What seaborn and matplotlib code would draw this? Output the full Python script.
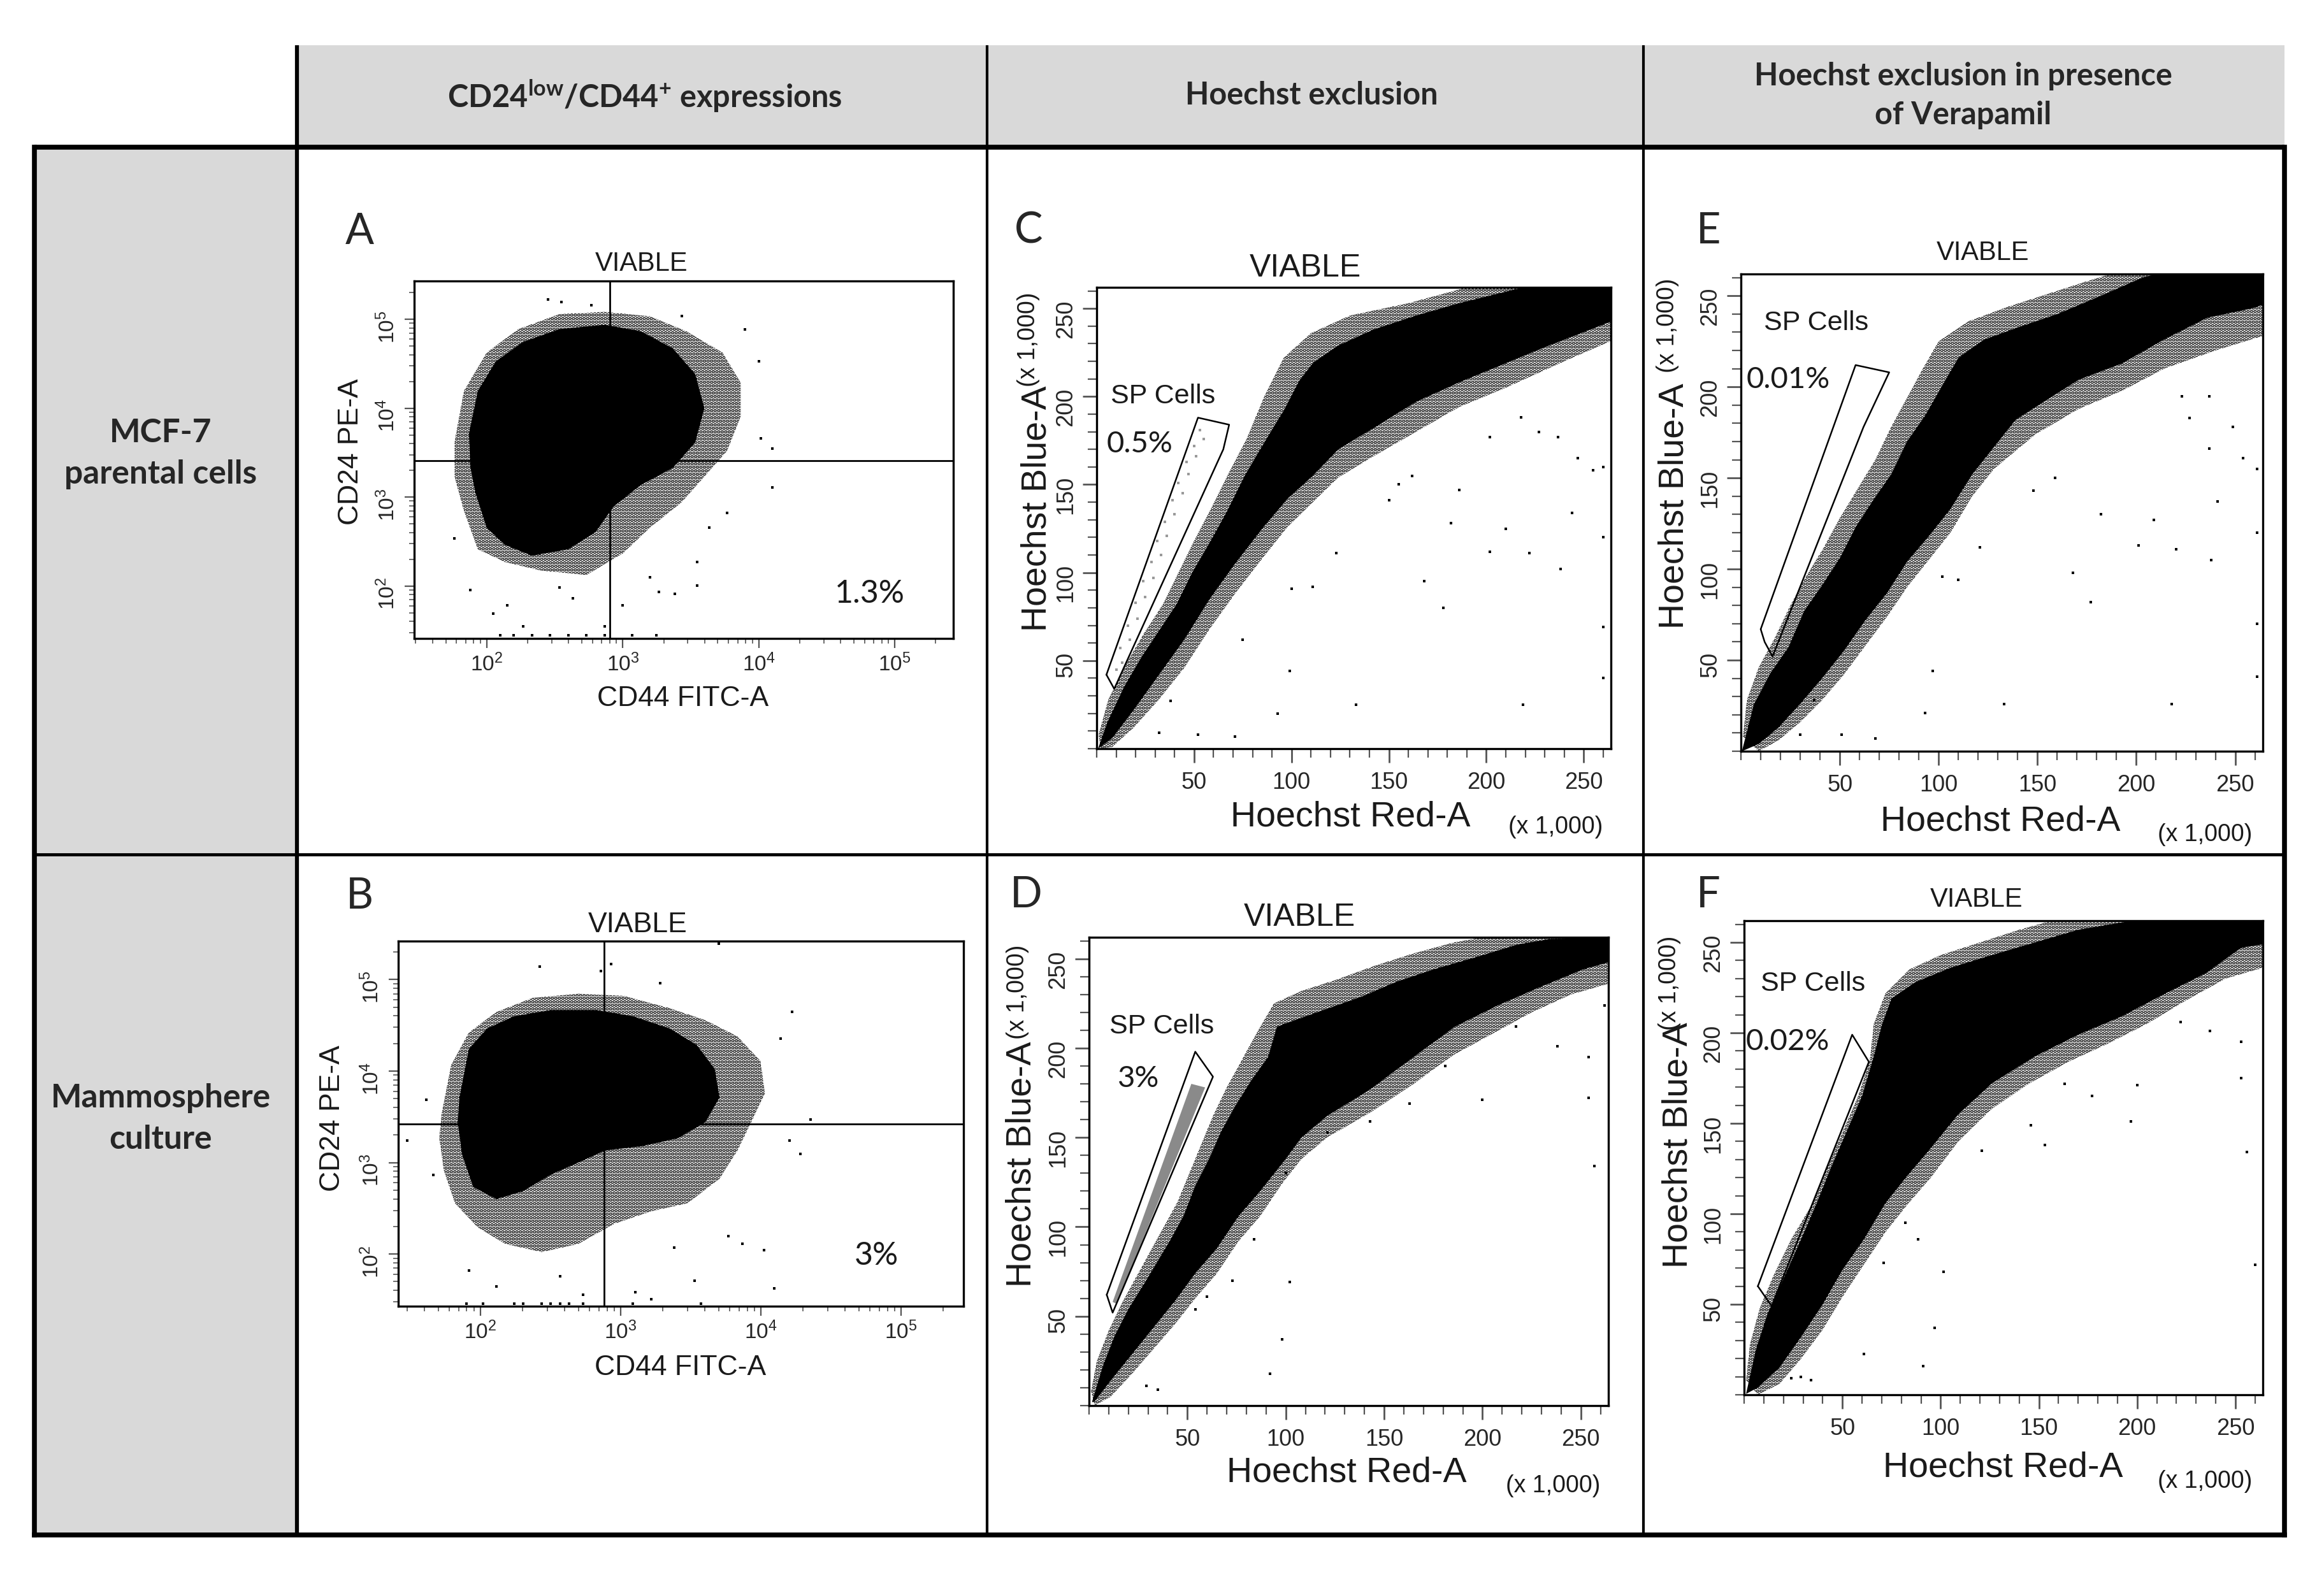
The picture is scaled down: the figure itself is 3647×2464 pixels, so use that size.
import numpy as np
import matplotlib
matplotlib.use("Agg")
import matplotlib.pyplot as plt
import seaborn as sns
from matplotlib.patches import Rectangle
from matplotlib.ticker import (FixedLocator, MultipleLocator, LogLocator,
                               LogFormatterSciNotation, NullFormatter)

# ---------------- data ----------------
col_titles = [r"CD24$^{\mathbf{low}}$/CD44$^{\mathbf{+}}$ expressions",
              "Hoechst exclusion",
              "Hoechst exclusion in presence\nof Verapamil"]
row_titles = ["MCF-7\nparental cells", "Mammosphere\nculture"]

# panel A : CD44 FITC-A vs CD24 PE-A (MCF-7)
A_core_x = [74, 86, 117, 185, 341, 736, 1360, 2330, 3410, 3980, 3410, 2330, 1360, 858, 631, 398, 215, 136, 100, 83, 76]
A_core_y = [5150, 15600, 33800, 55600, 77400, 86600, 73300, 47100, 24200, 10000, 4120, 2120, 1370, 784, 404, 259, 219, 290, 451, 1090, 2120]
A_halo_x = [58, 68, 100, 171, 341, 736, 1580, 2930, 5410, 7360, 7360, 5840, 3980, 2710, 1580, 1000, 541, 251, 136, 86, 68, 58]
A_halo_y = [4120, 15600, 42200, 77400, 114000, 121000, 108000, 73300, 42200, 19400, 8020, 3300, 1700, 875, 451, 232, 133, 149, 186, 259, 701, 1700]
A_dots_x = [76, 112, 141, 185, 341, 429, 736, 1000, 1580, 1850, 2420, 3540, 3540, 4310, 5840, 10400, 12600, 12600,
            10000, 7940, 2720, 282, 355, 585, 58, 126, 158, 215, 293, 398, 541, 736, 1170, 1770]
A_dots_y = [90, 49, 61, 35, 96, 73, 35, 61, 126, 86, 81, 101, 186, 451, 664, 4600, 3490, 1290,
            33800, 77400, 108000, 168000, 156000, 143000, 342, 28, 28, 28, 28, 28, 28, 28, 28, 28]
A_quad = (807, 2570)
A_pct = "1.3%"

# panel B : CD44 FITC-A vs CD24 PE-A (mammospheres)
B_core_x = [71, 83, 112, 175, 318, 673, 1220, 2220, 3480, 4700, 5070, 4040, 2580, 1420, 782, 499, 318, 203, 130, 89, 74, 69]
B_core_y = [5140, 17500, 29300, 39800, 46400, 46400, 39800, 29300, 19400, 10500, 5140, 2780, 1850, 1510, 1360, 1000, 736, 489, 398, 541, 1230, 2780]
B_halo_x = [53, 62, 83, 130, 236, 499, 1050, 2220, 4040, 6820, 9930, 10700, 8550, 6820, 5070, 3000, 1650, 908, 499, 274, 151, 96, 66, 55, 51]
B_halo_y = [3410, 11700, 26400, 44100, 63100, 69900, 66400, 48800, 35900, 23900, 12900, 5700, 2780, 1360, 664, 359, 293, 215, 129, 105, 129, 195, 359, 815, 1850]
B_dots_x = [264, 855, 724, 1910, 4990, 16700, 13900, 22600, 16100, 19100, 10500, 12400, 7360, 5880, 3360, 2400, 1650, 1270,
            538, 370, 130, 83, 30, 41, 46, 80, 104, 175, 203, 274, 318, 370, 430, 538, 1220, 3740]
B_dots_y = [139000, 147000, 123000, 92000, 246000, 44100, 22700, 2930, 1750, 1250, 111, 42, 129, 158, 51, 117, 32, 38,
            36, 57, 44, 66, 1750, 4890, 736, 28.5, 28.5, 28.5, 28.5, 28.5, 28.5, 28.5, 28.5, 28.5, 28.5, 28.5]
B_quad = (764, 2630)
B_pct = "3%"

# panel C : Hoechst Red-A vs Hoechst Blue-A (x 1,000), MCF-7
C_core_x = [0.7, 5.5, 14, 23, 32, 41, 49, 58, 67, 76, 85, 96, 104, 111, 124, 142, 164, 186, 208, 219, 265,
            265, 230, 208, 186, 164, 142, 124, 111, 98, 85, 71, 58, 45, 32, 19, 8]
C_core_y = [0, 15, 35, 52, 67, 82, 100, 117, 135, 155, 172, 192, 209, 219, 229, 238, 246, 253, 259, 262, 262,
            243, 228, 218, 208, 197, 182, 170, 155, 142, 125, 105, 85, 62, 42, 22, 6]
C_halo_x = [1, 6, 15, 24, 34, 42, 50, 59, 68, 77, 86, 96, 110, 130, 160, 190, 265,
            265, 240, 210, 186, 164, 142, 124, 111, 98, 85, 71, 58, 45, 32, 19, 8, 2]
C_halo_y = [8, 28, 48, 65, 82, 100, 118, 137, 157, 176, 200, 222, 236, 246, 253, 262, 262,
            232, 220, 205, 194, 180, 166, 154, 140, 126, 108, 88, 68, 46, 28, 12, 1, 0]
C_dots_x = [133, 219, 99, 93, 71, 52, 32, 38, 178, 168, 202, 222, 238, 210, 244, 182, 150, 123, 111, 100, 75,
            202, 218, 227, 237, 247, 255, 155, 162, 186, 260, 260, 260, 260]
C_dots_y = [25, 25, 44, 20, 7, 8, 9, 27, 80, 95, 112, 111, 102, 125, 134, 128, 141, 111, 92, 91, 62,
            177, 188, 180, 177, 165, 158, 150, 155, 147, 40, 69, 120, 160]
C_gate_x = [5, 52, 68, 65, 9, 5]
C_gate_y = [42, 188, 184, 170, 34, 42]
C_sp_x = [10, 13, 12, 17, 16, 21, 20, 25, 24, 29, 28, 33, 31, 36, 35, 40, 39, 44, 42, 47, 46, 51, 50, 55, 53]
C_sp_y = [45, 49, 57, 62, 70, 74, 83, 86, 95, 97, 106, 110, 118, 121, 129, 133, 141, 145, 151, 156, 163, 166, 172, 176, 181]
C_pct = "0.5%"

# panel D : Hoechst, mammospheres
D_core_x = [1.5, 7, 13, 20, 28.5, 35, 41.5, 48, 54, 61, 67, 74, 82.5, 91, 95.5, 108, 121, 139, 156, 175, 197, 218, 234, 264,
            264, 251, 229, 208, 186, 165, 143, 121, 108, 100, 87, 76, 65, 54, 44, 33, 22, 11, 2.6]
D_core_y = [2, 22, 39, 54, 69, 81, 93, 106, 123, 138, 153, 167, 182, 195, 212, 217, 222, 229, 237, 244, 251, 258, 261, 262,
            248, 244, 234, 224, 212, 195, 177, 162, 150, 138, 120, 106, 88, 74, 59, 44, 29, 14, 2]
D_halo_x = [1, 4, 10, 17, 24, 31, 38, 45, 51, 57, 63, 70, 78, 86, 94, 108, 125, 145, 165, 185, 200, 264,
            264, 245, 225, 205, 185, 165, 143, 121, 108, 98, 87, 76, 65, 54, 44, 33, 22, 11, 3]
D_halo_y = [8, 25, 42, 58, 72, 86, 100, 114, 130, 146, 162, 178, 194, 210, 225, 232, 238, 246, 253, 259, 262, 262,
            236, 230, 220, 208, 196, 180, 164, 150, 138, 124, 106, 92, 74, 60, 46, 32, 18, 5, 0]
D_dots_x = [238, 217, 200, 254, 257, 254, 181, 163, 143, 121, 100, 84, 102, 73, 98, 92, 35, 29, 54, 60, 262]
D_dots_y = [201, 212, 171, 172, 134, 195, 190, 169, 159, 153, 130, 93, 69, 70, 37, 18, 9, 11, 54, 61, 224]
D_gate_x = [9, 54, 63, 12, 9]
D_gate_y = [62, 198, 184, 52, 62]
D_sp_x = [12, 52, 59, 14]
D_sp_y = [58, 180, 178, 57]
D_pct = "3%"

# panel E : Hoechst + verapamil, MCF-7
E_core_x = [0.5, 6.5, 15, 24, 32, 41, 50, 58, 67, 76, 84, 93, 102, 110, 123, 141, 160, 182, 203, 214, 264,
            264, 258, 236, 214, 193, 171, 149, 139, 128, 117, 106, 95, 84, 74, 63, 52, 41, 30, 19, 9]
E_core_y = [0, 25.6, 43, 57, 77, 91, 106, 123, 138, 152, 170, 184, 201, 216, 226, 233, 240, 250, 260, 263, 263,
            245, 243, 238, 226, 213, 204, 189, 182, 167, 152, 133, 118, 104, 87, 72, 55, 40, 26, 13, 4]
E_halo_x = [1, 3, 9, 17, 25, 33, 42, 50, 59, 68, 76, 84, 92, 100, 115, 135, 155, 175, 190, 264,
            264, 240, 214, 193, 171, 149, 128, 117, 106, 95, 84, 74, 63, 52, 41, 30, 19, 9]
E_halo_y = [8, 28, 46, 62, 80, 96, 112, 128, 144, 160, 178, 194, 210, 225, 236, 244, 251, 258, 263, 263,
            228, 220, 210, 198, 188, 174, 155, 140, 120, 105, 90, 74, 58, 42, 28, 16, 6, 0]
E_dots_x = [223, 237, 249, 237, 254, 227, 241, 209, 182, 201, 220, 238, 168, 177, 148, 159, 121, 110, 102, 97, 93,
            68, 51, 30, 37, 133, 218, 261, 261, 261, 261]
E_dots_y = [195, 195, 178, 166, 161, 183, 137, 127, 130, 113, 111, 105, 98, 82, 143, 150, 112, 94, 96, 44, 21,
            7, 9, 9, 28, 26, 26, 41, 70, 120, 155]
E_gate_x = [10, 58, 75, 62, 16, 12, 10]
E_gate_y = [67, 212, 208, 178, 52, 60, 67]
E_pct = "0.01%"

# panel F : Hoechst + verapamil, mammospheres
F_core_x = [1, 6, 12, 20, 29, 37, 44, 52, 60, 66, 70, 75, 87, 105, 126, 148, 170, 192, 213, 264,
            264, 253, 235, 213, 192, 170, 148, 126, 109, 94, 83, 72, 61, 50, 40, 29, 18, 7]
F_core_y = [0.5, 25, 45, 64, 86, 106, 125, 145, 165, 187, 204, 219, 228, 236, 243, 250, 257, 261, 265, 265,
            249, 247, 233, 221, 209, 199, 187, 172, 155, 135, 121, 106, 86, 69, 50, 32, 15, 4]
F_halo_x = [1, 3, 8, 15, 24, 35, 42, 50, 58, 64, 66, 72, 84, 100, 120, 140, 160, 175, 264,
            264, 245, 225, 205, 185, 165, 145, 126, 109, 95, 83, 72, 61, 50, 40, 29, 18, 7]
F_halo_y = [8, 28, 48, 66, 86, 106, 125, 145, 165, 185, 205, 222, 235, 243, 250, 257, 263, 265, 265,
            236, 230, 218, 205, 194, 184, 172, 158, 140, 120, 105, 90, 72, 54, 36, 20, 6, 0]
F_dots_x = [222, 237, 253, 253, 256, 260, 200, 197, 177, 163, 146, 153, 121, 101.5, 88.5, 82, 71, 97, 91, 61, 29, 34, 24]
F_dots_y = [206, 201, 195, 175, 134, 72, 171, 151, 165, 172, 149, 138, 135, 68, 86, 95, 73, 37, 16, 22.5, 10, 8, 9]
F_gate_x = [7, 55, 63.5, 14, 7]
F_gate_y = [60, 199, 184, 49, 60]
F_pct = "0.02%"

# ---------------- layout (pixels of the 3647x2464 canvas) ----------------
W, H = 3647, 2464
TABLE_L, COL1, COL2, COL3, TABLE_R = 54, 466, 1549, 2579, 3585
HEAD_T, HEAD_B, ROW_SPLIT, TABLE_B = 71, 231, 1341, 2409

def frac_box(x0, y0, x1, y1):
    return [x0 / W, 1 - y1 / H, (x1 - x0) / W, (y1 - y0) / H]

sns.set_style("white")
plt.rcParams["font.family"] = ["Liberation Sans", "DejaVu Sans"]
plt.rcParams["mathtext.fontset"] = "custom"
plt.rcParams["mathtext.bf"] = "Lato:bold"
plt.rcParams["mathtext.rm"] = "Liberation Sans"
plt.rcParams["hatch.linewidth"] = 2.8
plt.rcParams["hatch.color"] = "black"

CAL = ["Lato", "DejaVu Sans"]
ARI = ["Liberation Sans", "DejaVu Sans"]

fig = plt.figure(figsize=(W / 100, H / 100), dpi=100)

# table background, grid and headings
bg = fig.add_axes([0, 0, 1, 1])
bg.set_xlim(0, W)
bg.set_ylim(H, 0)
bg.axis("off")
bg.add_patch(Rectangle((COL1, HEAD_T), TABLE_R - COL1, HEAD_B - HEAD_T, color="#d9d9d9", lw=0))
bg.add_patch(Rectangle((TABLE_L, HEAD_B), COL1 - TABLE_L, TABLE_B - HEAD_B, color="#d9d9d9", lw=0))
bg.plot([TABLE_L, TABLE_R], [HEAD_B, HEAD_B], color="black", lw=5.5, solid_capstyle="butt")
bg.plot([TABLE_L, TABLE_R], [ROW_SPLIT, ROW_SPLIT], color="black", lw=3.5, solid_capstyle="butt")
bg.plot([TABLE_L, TABLE_R], [TABLE_B, TABLE_B], color="black", lw=5.5, solid_capstyle="projecting")
bg.plot([TABLE_L, TABLE_L], [HEAD_B, TABLE_B], color="black", lw=5.5, solid_capstyle="projecting")
bg.plot([TABLE_R, TABLE_R], [HEAD_B, TABLE_B], color="black", lw=5.5, solid_capstyle="projecting")
bg.plot([COL1, COL1], [HEAD_T, TABLE_B], color="black", lw=4.5, solid_capstyle="butt")
for cx in (COL2, COL3):
    bg.plot([cx, cx], [HEAD_T, TABLE_B], color="black", lw=3, solid_capstyle="butt")

for cx, title in zip([1012, 2058, 3081], col_titles):
    bg.text(cx, 150, title, ha="center", va="center", fontsize=35, fontweight="bold",
            family=CAL, linespacing=1.45)
for cy, title in zip([712, 1756], row_titles):
    bg.text(252, cy, title, ha="center", va="center", fontsize=37, fontweight="bold",
            family=CAL, linespacing=1.45)

letters = ["A", "B", "C", "D", "E", "F"]
letter_pos = [(564, 364), (564, 1407), (1614, 363), (1610, 1405), (2681, 363), (2681, 1405)]
for lt, (lx, ly) in zip(letters, letter_pos):
    bg.text(lx, ly, lt, ha="center", va="center", fontsize=48, family=CAL)


def style_spines(ax):
    for s in ax.spines.values():
        s.set_visible(True)
        s.set_linewidth(2.4)
        s.set_color("black")


def cd_panel(ax, core_x, core_y, halo_x, halo_y, dots_x, dots_y, quad, pct, pct_xy, xlim, ylim,
             viable_xy, viable_fs, ylab_xy, xlab_xy):
    ax.set_xscale("log")
    ax.set_yscale("log")
    ax.fill(halo_x, halo_y, facecolor="none", edgecolor="black", hatch="...", lw=0, zorder=1)
    ax.fill(core_x, core_y, color="black", lw=0, zorder=2)
    sns.scatterplot(x=dots_x, y=dots_y, ax=ax, color="black", marker="s", s=10, linewidth=0,
                    legend=False, zorder=3)
    ax.axvline(quad[0], color="black", lw=2, zorder=4)
    ax.axhline(quad[1], color="black", lw=2, zorder=4)
    ax.set_xlim(*xlim)
    ax.set_ylim(*ylim)
    for axis in (ax.xaxis, ax.yaxis):
        axis.set_major_locator(FixedLocator([1e2, 1e3, 1e4, 1e5]))
        axis.set_major_formatter(LogFormatterSciNotation())
        axis.set_minor_locator(LogLocator(base=10, subs=np.arange(2, 10), numticks=20))
        axis.set_minor_formatter(NullFormatter())
    ax.tick_params(which="both", bottom=True, left=True, direction="out", color="#555555")
    ax.tick_params(which="major", length=11, width=1.6, labelsize=24, pad=6)
    ax.tick_params(which="minor", length=6, width=1.2)
    ax.tick_params(axis="y", labelrotation=90)
    ax.set_xlabel("")
    ax.set_ylabel("")
    style_spines(ax)
    ax.text(*viable_xy, "VIABLE", transform=ax.transAxes, ha="center", va="center",
            fontsize=viable_fs, family=ARI, color="#1a1a1a")
    ax.text(*ylab_xy, "CD24 PE-A", transform=ax.transAxes, ha="center", va="center",
            rotation=90, fontsize=32, family=ARI, color="#1a1a1a")
    ax.text(*xlab_xy, "CD44 FITC-A", transform=ax.transAxes, ha="center", va="center",
            fontsize=32, family=ARI, color="#1a1a1a")
    ax.text(*pct_xy, pct, ha="center", va="center", fontsize=36, family=CAL, color="#1a1a1a")


def hoechst_panel(ax, core_x, core_y, halo_x, halo_y, dots_x, dots_y, gate_x, gate_y, pct,
                  sp_xy, pct_xy, viable_xy, viable_fs, ylab_xy, yunit_xy, xlab_xy, xunit_xy,
                  sp_x=None, sp_y=None, sp_band=None):
    ax.fill(halo_x, halo_y, facecolor="none", edgecolor="black", hatch="...", lw=0, zorder=1)
    ax.fill(core_x, core_y, color="black", lw=0, zorder=2)
    sns.scatterplot(x=dots_x, y=dots_y, ax=ax, color="black", marker="s", s=10, linewidth=0,
                    legend=False, zorder=3)
    if sp_band is not None:
        ax.fill(sp_band[0], sp_band[1], color="#8a8a8a", lw=0, zorder=4)
    if sp_x is not None:
        sns.scatterplot(x=sp_x, y=sp_y, ax=ax, color="#9a9a9a", marker="s", s=10, linewidth=0,
                        legend=False, zorder=4)
    sns.lineplot(x=gate_x, y=gate_y, sort=False, estimator=None, ax=ax, color="black", lw=1.8,
                 zorder=5)
    ax.set_xlim(0, 264)
    ax.set_ylim(0, 262)
    for axis in (ax.xaxis, ax.yaxis):
        axis.set_major_locator(FixedLocator([50, 100, 150, 200, 250]))
        axis.set_minor_locator(MultipleLocator(10))
    ax.tick_params(which="both", bottom=True, left=True, direction="out", color="#555555")
    ax.tick_params(which="major", length=16, width=2, labelsize=26, pad=10)
    ax.tick_params(which="minor", length=10, width=1.6)
    ax.tick_params(axis="y", labelrotation=90, pad=6)
    ax.set_xlabel("")
    ax.set_ylabel("")
    style_spines(ax)
    ax.text(*viable_xy, "VIABLE", transform=ax.transAxes, ha="center", va="center",
            fontsize=viable_fs, family=ARI, color="#1a1a1a")
    ax.text(*ylab_xy, "Hoechst Blue-A", transform=ax.transAxes, ha="center", va="center",
            rotation=90, fontsize=40, family=ARI, color="#1a1a1a")
    ax.text(*yunit_xy, "(x 1,000)", transform=ax.transAxes, ha="center", va="center",
            rotation=90, fontsize=27, family=ARI, color="#1a1a1a")
    ax.text(*xlab_xy, "Hoechst Red-A", transform=ax.transAxes, ha="center", va="center",
            fontsize=40, family=ARI, color="#1a1a1a")
    ax.text(*xunit_xy, "(x 1,000)", transform=ax.transAxes, ha="center", va="center",
            fontsize=27, family=ARI, color="#1a1a1a")
    ax.text(*sp_xy, "SP Cells", ha="center", va="center", fontsize=31, family=ARI, color="#1a1a1a",
            zorder=6)
    ax.text(*pct_xy, pct, ha="center", va="center", fontsize=34, family=CAL, color="#1a1a1a",
            zorder=6)


axA = fig.add_axes(frac_box(650, 441, 1496, 1002))
cd_panel(axA, A_core_x, A_core_y, A_halo_x, A_halo_y, A_dots_x, A_dots_y, A_quad, A_pct, (65600, 81),
         (10 ** 1.467, 10 ** 5.43), (10 ** 1.41, 10 ** 5.43),
         (0.422, 1.048), 30, (-0.118, 0.522), (0.498, -0.169))

axB = fig.add_axes(frac_box(625, 1477, 1512, 2050))
cd_panel(axB, B_core_x, B_core_y, B_halo_x, B_halo_y, B_dots_x, B_dots_y, B_quad, B_pct, (66800, 95),
         (10 ** 1.415, 10 ** 5.445), (10 ** 1.43, 10 ** 5.42),
         (0.423, 1.044), 32, (-0.117, 0.515), (0.499, -0.169))

axC = fig.add_axes(frac_box(1721, 451, 2528, 1175))
hoechst_panel(axC, C_core_x, C_core_y, C_halo_x, C_halo_y, C_dots_x, C_dots_y, C_gate_x, C_gate_y,
              C_pct, (34, 200), (22, 173), (0.406, 1.041), 36, (-0.116, 0.52), (-0.133, 0.887),
              (0.493, -0.148), (0.892, -0.17), sp_x=C_sp_x, sp_y=C_sp_y)

axD = fig.add_axes(frac_box(1709, 1471, 2524, 2206))
hoechst_panel(axD, D_core_x, D_core_y, D_halo_x, D_halo_y, D_dots_x, D_dots_y, D_gate_x, D_gate_y,
              D_pct, (37, 212), (25, 183), (0.405, 1.042), 36, (-0.129, 0.516), (-0.137, 0.883),
              (0.496, -0.143), (0.893, -0.171), sp_band=(D_sp_x, D_sp_y))

axE = fig.add_axes(frac_box(2732, 430, 3551, 1179))
hoechst_panel(axE, E_core_x, E_core_y, E_halo_x, E_halo_y, E_dots_x, E_dots_y, E_gate_x, E_gate_y,
              E_pct, (38, 235), (24, 204), (0.464, 1.044), 30, (-0.128, 0.514), (-0.140, 0.892),
              (0.497, -0.147), (0.889, -0.175))

axF = fig.add_axes(frac_box(2737, 1445, 3551, 2189))
hoechst_panel(axF, F_core_x, F_core_y, F_halo_x, F_halo_y, F_dots_x, F_dots_y, F_gate_x, F_gate_y,
              F_pct, (35, 227), (22, 195), (0.448, 1.044), 30, (-0.127, 0.526), (-0.144, 0.868),
              (0.499, -0.154), (0.888, -0.183))

fig.savefig("out.png", dpi=100, facecolor="white")
